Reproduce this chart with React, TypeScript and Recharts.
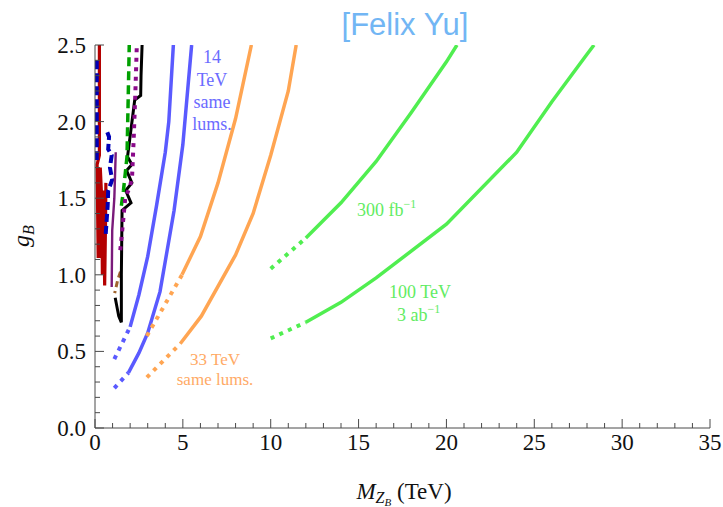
import React from 'react';
import { LineChart, Line, XAxis, YAxis } from 'recharts';

// 14 TeV, same lumis (blue)
const blue14Left = [
  { x: 2, y: 0.66 }, { x: 2.5, y: 0.87 }, { x: 3, y: 1.12 }, { x: 3.5, y: 1.45 },
  { x: 4, y: 1.8 }, { x: 4.2, y: 2.0 }, { x: 4.46, y: 2.5 },
];
const blue14LeftDot = [{ x: 1.1, y: 0.45 }, { x: 2, y: 0.66 }];
const blue14Right = [
  { x: 1.9, y: 0.36 }, { x: 2.5, y: 0.49 }, { x: 3, y: 0.62 }, { x: 3.7, y: 0.89 },
  { x: 4.5, y: 1.42 }, { x: 5, y: 1.85 }, { x: 5.5, y: 2.5 },
];
const blue14RightDot = [{ x: 1.1, y: 0.26 }, { x: 1.9, y: 0.36 }];

// 33 TeV, same lumis (orange)
const orange33Left = [
  { x: 4.95, y: 1.0 }, { x: 6, y: 1.25 }, { x: 7, y: 1.6 }, { x: 8, y: 2.02 }, { x: 8.9, y: 2.5 },
];
const orange33LeftDot = [{ x: 2.95, y: 0.6 }, { x: 4.95, y: 1.0 }];
const orange33Right = [
  { x: 4.85, y: 0.55 }, { x: 6.05, y: 0.73 }, { x: 8, y: 1.13 }, { x: 9, y: 1.4 },
  { x: 10, y: 1.78 }, { x: 11, y: 2.2 }, { x: 11.45, y: 2.5 },
];
const orange33RightDot = [{ x: 2.95, y: 0.33 }, { x: 4.85, y: 0.55 }];

// 100 TeV (green)
const green300 = [
  { x: 12, y: 1.24 }, { x: 14, y: 1.47 }, { x: 16, y: 1.74 }, { x: 18, y: 2.06 },
  { x: 20, y: 2.39 }, { x: 20.6, y: 2.5 },
];
const green300Dot = [{ x: 10, y: 1.04 }, { x: 12, y: 1.24 }];
const green3ab = [
  { x: 12, y: 0.69 }, { x: 14, y: 0.82 }, { x: 16, y: 0.98 }, { x: 20, y: 1.33 },
  { x: 24, y: 1.8 }, { x: 26, y: 2.13 }, { x: 28, y: 2.44 }, { x: 28.4, y: 2.5 },
];
const green3abDot = [{ x: 10, y: 0.585 }, { x: 12, y: 0.69 }];

// existing limits near the axis
const redLimit = [
  { x: 0.25, y: 2.5 }, { x: 0.25, y: 1.78 }, { x: 0.12, y: 1.72 }, { x: 0.18, y: 1.12 },
  { x: 0.28, y: 1.12 }, { x: 0.3, y: 1.7 }, { x: 0.38, y: 1.5 }, { x: 0.42, y: 1.0 },
  { x: 0.48, y: 1.55 }, { x: 0.55, y: 0.93 }, { x: 0.6, y: 1.35 }, { x: 0.62, y: 1.6 },
];
const blueDashA = [{ x: 0.1, y: 2.4 }, { x: 0.1, y: 1.75 }];
const blueDashB = [
  { x: 0.7, y: 1.93 }, { x: 0.8, y: 1.9 }, { x: 0.75, y: 1.82 }, { x: 0.95, y: 1.78 },
  { x: 0.85, y: 1.7 }, { x: 0.98, y: 1.62 }, { x: 0.75, y: 1.55 }, { x: 0.72, y: 1.45 },
  { x: 0.6, y: 1.25 },
];
const purpleSolid = [{ x: 1.18, y: 1.8 }, { x: 1.1, y: 1.5 }, { x: 0.98, y: 1.29 }, { x: 0.95, y: 0.92 }];
const purpleDot = [
  { x: 1.44, y: 1.16 }, { x: 1.6, y: 1.35 }, { x: 1.72, y: 1.5 }, { x: 2.0, y: 1.58 },
  { x: 2.11, y: 1.64 }, { x: 2.2, y: 1.88 }, { x: 2.3, y: 2.2 }, { x: 2.38, y: 2.5 },
];
const greenDash = [{ x: 1.5, y: 1.45 }, { x: 1.62, y: 1.55 }, { x: 1.82, y: 1.77 }, { x: 1.88, y: 2.1 }, { x: 1.95, y: 2.5 }];
const blackLimit = [
  { x: 1.15, y: 0.85 }, { x: 1.35, y: 0.73 }, { x: 1.5, y: 0.69 }, { x: 1.5, y: 1.0 },
  { x: 1.54, y: 1.42 }, { x: 2.05, y: 1.47 }, { x: 1.75, y: 1.55 }, { x: 2.1, y: 1.6 },
  { x: 1.8, y: 1.68 }, { x: 2.1, y: 1.72 }, { x: 1.85, y: 1.77 }, { x: 2.26, y: 2.14 },
  { x: 2.6, y: 2.17 }, { x: 2.62, y: 2.3 }, { x: 2.68, y: 2.5 },
];
const brownDash = [{ x: 1.45, y: 1.02 }, { x: 1.3, y: 0.97 }, { x: 1.12, y: 0.88 }];

const xTicks = Array.from({ length: 36 }, (_, i) => i);
const yTicks = Array.from({ length: 26 }, (_, i) => i / 10);

const frame = '#4a4a4a';
const serif = '"Liberation Serif", "Times New Roman", serif';

const BottomTick = ({ x, y, payload }: any) => {
  const v = payload.value;
  const major = Math.round(v) % 5 === 0;
  return (
    <g>
      <line x1={x} x2={x} y1={y} y2={y - (major ? 9 : 5)} stroke={frame} />
      {major && (
        <text x={x} y={y + 22} textAnchor="middle" fontFamily={serif} fontSize={23} fill="#111">
          {v}
        </text>
      )}
    </g>
  );
};
const TopTick = ({ x, y, payload }: any) => {
  const major = Math.round(payload.value) % 5 === 0;
  return <line x1={x} x2={x} y1={y} y2={y + (major ? 9 : 5)} stroke={frame} />;
};
const LeftTick = ({ x, y, payload }: any) => {
  const v = payload.value;
  const major = Math.round(v * 10) % 5 === 0;
  return (
    <g>
      <line x1={x} x2={x + (major ? 9 : 5)} y1={y} y2={y} stroke={frame} />
      {major && (
        <text x={x - 9} y={y + 8} textAnchor="end" fontFamily={serif} fontSize={23} fill="#111">
          {v.toFixed(1)}
        </text>
      )}
    </g>
  );
};
const RightTick = ({ x, y, payload }: any) => {
  const major = Math.round(payload.value * 10) % 5 === 0;
  return <line x1={x} x2={x - (major ? 9 : 5)} y1={y} y2={y} stroke={frame} />;
};

const dotted = '4 5.5';

export default function App() {
  const line = (key: string, data: any[], stroke: string, width: number, dash?: string) => (
    <Line
      key={key}
      data={data}
      dataKey="y"
      type="linear"
      stroke={stroke}
      strokeWidth={width}
      strokeDasharray={dash}
      dot={false}
      activeDot={false}
      isAnimationActive={false}
    />
  );
  return (
    <div style={{ position: 'absolute', left: 0, top: 0, width: 723, height: 507, background: '#fff' }}>
      <LineChart width={723} height={507} margin={{ top: 45, right: 13, bottom: 0, left: 0 }}>
        <XAxis
          type="number"
          dataKey="x"
          domain={[0, 35]}
          ticks={xTicks}
          interval={0}
          height={79}
          tickSize={0}
          tickMargin={0}
          tickLine={false}
          tick={<BottomTick />}
          axisLine={{ stroke: frame }}
          allowDataOverflow
        />
        <XAxis
          xAxisId="top"
          orientation="top"
          type="number"
          dataKey="x"
          domain={[0, 35]}
          ticks={xTicks}
          interval={0}
          height={0}
          tickSize={0}
          tickMargin={0}
          tickLine={false}
          tick={<TopTick />}
          axisLine={{ stroke: frame }}
          allowDataOverflow
        />
        <YAxis
          type="number"
          domain={[0, 2.5]}
          ticks={yTicks}
          interval={0}
          width={95}
          tickSize={0}
          tickMargin={0}
          tickLine={false}
          tick={<LeftTick />}
          axisLine={{ stroke: frame }}
          allowDataOverflow
        />
        <YAxis
          yAxisId="right"
          orientation="right"
          type="number"
          domain={[0, 2.5]}
          ticks={yTicks}
          interval={0}
          width={0}
          tickSize={0}
          tickMargin={0}
          tickLine={false}
          tick={<RightTick />}
          axisLine={{ stroke: frame }}
          allowDataOverflow
        />
        <Line
          xAxisId="top"
          yAxisId="right"
          data={green3ab}
          dataKey="y"
          stroke="transparent"
          dot={false}
          activeDot={false}
          isAnimationActive={false}
        />
        {line('red', redLimit, '#b40000', 3.2)}
        {line('blueA', blueDashA, '#0000b8', 4, '9 4')}
        {line('blueB', blueDashB, '#0000b8', 4, '8 4')}
        {line('purpleS', purpleSolid, '#7a1a7a', 2.4)}
        {line('brown', brownDash, '#a0652f', 3, '6 4')}
        {line('black', blackLimit, '#000000', 3)}
        {line('greenD', greenDash, '#00a000', 3.5, '9 5')}
        {line('purpleD', purpleDot, '#8a0a8a', 4, dotted)}
        {line('b14l', blue14Left, '#5a5aff', 3.5)}
        {line('b14ld', blue14LeftDot, '#5a5aff', 4, dotted)}
        {line('b14r', blue14Right, '#5a5aff', 3.5)}
        {line('b14rd', blue14RightDot, '#5a5aff', 4, dotted)}
        {line('o33l', orange33Left, '#ffa552', 3.5)}
        {line('o33ld', orange33LeftDot, '#ffa552', 4, dotted)}
        {line('o33r', orange33Right, '#ffa552', 3.5)}
        {line('o33rd', orange33RightDot, '#ffa552', 4, dotted)}
        {line('g300', green300, '#50ee50', 3.5)}
        {line('g300d', green300Dot, '#50ee50', 4, dotted)}
        {line('g3ab', green3ab, '#50ee50', 3.5)}
        {line('g3abd', green3abDot, '#50ee50', 4, dotted)}
      </LineChart>
      <svg
        width={723}
        height={507}
        style={{ position: 'absolute', left: 0, top: 0, pointerEvents: 'none' }}
      >
        <text x={405} y={35} textAnchor="middle" fontFamily='"Liberation Sans", Arial, sans-serif' fontSize={31} fill="#72b6f4">
          [Felix Yu]
        </text>
        <g fontFamily={serif} fontSize={18} fill="#6b6bff" textAnchor="middle">
          <text x={212} y={63}>14</text>
          <text x={212} y={85.5}>TeV</text>
          <text x={212} y={108}>same</text>
          <text x={212} y={130}>lums.</text>
        </g>
        <g fontFamily={serif} fontSize={17} fill="#ffaa66" textAnchor="middle">
          <text x={215} y={365}>33 TeV</text>
          <text x={215} y={385}>same lums.</text>
        </g>
        <g fontFamily={serif} fontSize={18} fill="#62ec62">
          <text x={357} y={216}>
            300 fb<tspan fontSize={12} dy={-8}>−1</tspan>
          </text>
          <text x={420} y={298} textAnchor="middle">100 TeV</text>
          <text x={397} y={321}>
            3 ab<tspan fontSize={12} dy={-8}>−1</tspan>
          </text>
        </g>
        <text transform="translate(29,236) rotate(-90)" textAnchor="middle" fontFamily={serif} fontSize={24} fill="#111">
          <tspan fontStyle="italic">g</tspan>
          <tspan fontStyle="italic" fontSize={16} dy={5}>B</tspan>
        </text>
        <text x={404} y={499} textAnchor="middle" fontFamily={serif} fontSize={23} fill="#111">
          <tspan fontStyle="italic">M</tspan>
          <tspan fontStyle="italic" fontSize={16} dy={4}>Z</tspan>
          <tspan fontStyle="italic" fontSize={11} dy={3}>B</tspan>
          <tspan dy={-7}> (TeV)</tspan>
        </text>
      </svg>
    </div>
  );
}
